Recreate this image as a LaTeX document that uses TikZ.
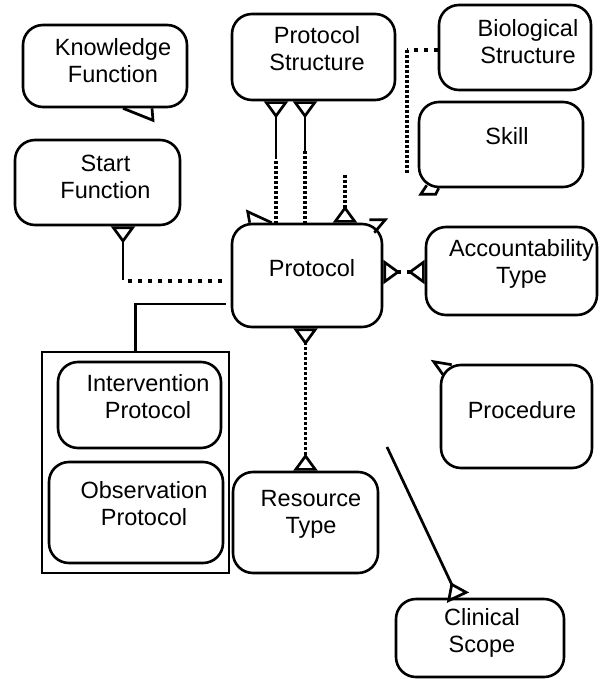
\documentclass[tikz,border=0pt]{standalone}
\usepackage{fontspec}
\setmainfont{Liberation Sans}
\usepackage{tikz}
\usetikzlibrary{arrows.meta,positioning,calc}

\begin{document}
\begin{tikzpicture}[x=1pt, y=-1pt,
  ent/.style={rectangle, rounded corners=20pt, draw, line width=2.6pt, inner sep=0pt},
  grp/.style={rectangle, draw, line width=2.6pt, inner sep=0pt},
  txt/.style={align=center, font=\fontsize{23.5}{27}\selectfont},
  ln/.style={line width=2.7pt},
  doth/.style={line width=3.2pt, dash pattern=on 3.5pt off 6.5pt},
  dotv/.style={line width=3.2pt, dash pattern=on 3pt off 2pt},
  foot/.tip={Triangle[open, reversed, length=17pt, width=24pt, line width=2.7pt]}]

  \useasboundingbox (0,0) rectangle (600,679);

  % entities
  \node[ent, minimum width=164pt, minimum height=82pt,
        label={[txt, xshift=8pt, yshift=5pt]center:Knowledge\\Function}] (kf) at (105,66) {};
  \node[ent, minimum width=163pt, minimum height=86pt,
        label={[txt, xshift=3.5pt, yshift=8pt]center:Protocol\\Structure}] (ps) at (313.5,57) {};
  \node[ent, minimum width=152pt, minimum height=85pt,
        label={[txt, xshift=13pt, yshift=5.5pt]center:Biological\\Structure}] (bs) at (515,47.5) {};
  \node[ent, minimum width=164pt, minimum height=85pt,
        label={[txt, xshift=6pt, yshift=8.5pt]center:Skill}] (sk) at (501,144.5) {};
  \node[ent, minimum width=165pt, minimum height=85pt,
        label={[txt, xshift=8pt, yshift=5.5pt]center:Start\\Function}] (sf) at (97.5,182.5) {};
  \node[ent, minimum width=150pt, minimum height=103pt,
        label={[txt, xshift=5pt, yshift=7.5pt]center:Protocol}] (pr) at (307,275.5) {};
  \node[ent, minimum width=171pt, minimum height=88pt,
        label={[txt, xshift=10pt, yshift=7pt]center:Accountability\\Type}] (at) at (511.5,271) {};
  \node[grp, minimum width=187pt, minimum height=221pt] (ctr) at (135.5,462.5) {};
  \node[ent, minimum width=163pt, minimum height=86pt,
        label={[txt, xshift=8.5pt, yshift=8pt]center:Intervention\\Protocol}] (ip) at (139.5,405) {};
  \node[ent, minimum width=174pt, minimum height=101pt,
        label={[txt, xshift=8pt, yshift=8.5pt]center:Observation\\Protocol}] (op) at (136,512.5) {};
  \node[ent, minimum width=145pt, minimum height=101pt,
        label={[txt, xshift=5.5pt, yshift=8.5pt]center:Resource\\Type}] (rt) at (305.5,522.5) {};
  \node[ent, minimum width=151pt, minimum height=103pt,
        label={[txt, xshift=5.5pt, yshift=6.5pt]center:Procedure}] (pc) at (516.5,416.5) {};
  \node[ent, minimum width=168pt, minimum height=78pt,
        label={[txt, xshift=2pt, yshift=5pt]center:Clinical\\Scope}] (cs) at (480,638) {};

  % loose ends
  \coordinate (psa) at ($(ps.south)+(-37.5,0)$);
  \coordinate (psb) at ($(ps.south)+(-8.5,0)$);
  \coordinate (sfa) at ($(sf.south)+(25.5,0)$);
  \coordinate (stub) at (345,175);
  \coordinate (bsk) at (407,50);
  \coordinate (bse) at (407,173);
  \coordinate (csa) at (387,447);

  % relationships
  \draw[ln, foot-] (psa) -- ++(0,58);
  \draw[dotv] ($(psa)+(0,60)$) -- (psa |- pr.north);
  \draw[ln, foot-] (psb) -- ++(0,50);
  \draw[dotv] ($(psb)+(0,50)$) -- (psb |- pr.north);
  \draw[dotv, -foot] (stub) -- (stub |- pr.north);

  \draw[ln, foot-] (sfa) -- ++(0,54);
  \draw[doth, shorten >=9pt] ($(sfa |- pr.west)+(5,5.5)$) -- ($(pr.west)+(0,5.5)$);
  \draw[ln, shorten <=5pt] ($(pr.west)+(0,28.5)$) -| (ctr.north);

  \draw[doth, foot-foot] ($(pr.east)+(0,-3.5)$) coordinate (pra) -- (pra -| at.west);
  \draw[dotv, foot-foot] (rt.north |- pr.south) -- (rt.north);

  \draw[doth] (bs.west |- bsk) -- (bsk);
  \draw[dotv] (bsk) -- (bse);
  \draw[ln, -foot] (csa) -- ($(cs.north)+(-22,0)$);

  % stray tails
  \draw[ln] ($(kf.south)+(18,0)$) -- ++(30,12) -- ++(-1,-12);
  \draw[ln] ($(sk.south west)+(9,-3)$) -- ++(-6,9) -- ++(15,0) -- ++(3,-6);
  \draw[ln] ($(pc.north west)+(12,1)$) -- ++(-18,-3) -- ++(10,14);
  \draw[ln] ($(pr.north west)+(19,0)$) -- ++(-2,-11) -- ++(24,11);
  \draw[ln] ($(pr.north east)+(-14,-3)$) -- ++(16,0) -- ++(-11,13);

\end{tikzpicture}
\end{document}
